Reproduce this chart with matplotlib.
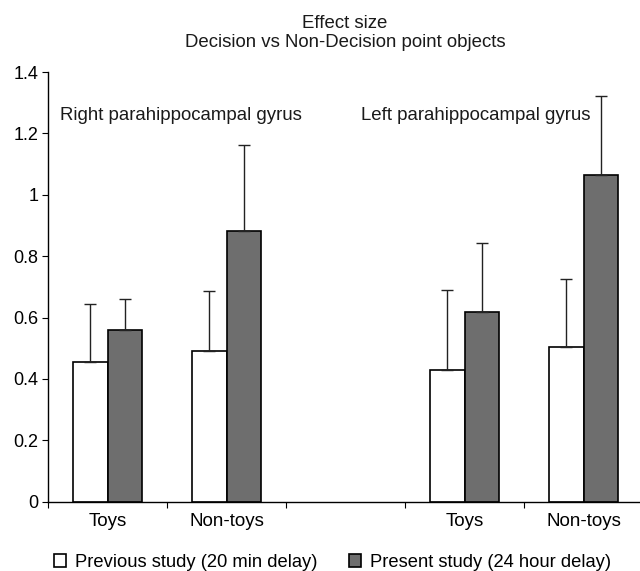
import numpy as np
import matplotlib.pyplot as plt

plt.rcParams['font.family'] = ['Liberation Sans', 'DejaVu Sans']

# Data
categories = ['Toys', 'Non-toys', '', 'Toys', 'Non-toys']
previous = [0.454, 0.492, np.nan, 0.430, 0.504]
previous_err = [0.190, 0.193, np.nan, 0.260, 0.220]
present = [0.558, 0.883, np.nan, 0.617, 1.063]
present_err = [0.104, 0.280, np.nan, 0.225, 0.258]
series_labels = ['Previous study (20 min delay)', 'Present study (24 hour delay)']

fig = plt.figure(figsize=(6.4, 5.71), dpi=100)
ax = fig.add_axes([0.075, 0.1214, 0.93, 0.7525])

x = np.arange(len(categories))
w = 0.29
err_kw = dict(ecolor='#222222', elinewidth=1.0, capsize=4, capthick=1.0)

lo = np.zeros(len(x))
b1 = ax.bar(x - w / 2, previous, w, color='white', edgecolor='black', linewidth=1.2,
            yerr=[lo, previous_err], error_kw=err_kw, label=series_labels[0], zorder=2)
b2 = ax.bar(x + w / 2, present, w, color='#6e6e6e', edgecolor='black', linewidth=1.2,
            yerr=[lo, present_err], error_kw=err_kw, label=series_labels[1], zorder=2)

ax.set_xlim(-0.5, len(categories) - 0.5)
ax.set_ylim(0, 1.4)
ax.set_yticks(np.arange(0, 1.41, 0.2))
ax.set_yticklabels(['0', '0.2', '0.4', '0.6', '0.8', '1', '1.2', '1.4'], fontsize=13)

# category labels between tick marks
ax.set_xticks(np.arange(-0.5, len(categories) - 0.5, 1.0))
ax.set_xticklabels([])
ax.set_xticks(x, minor=True)
ax.set_xticklabels(categories, minor=True, fontsize=13.5)
ax.tick_params(axis='x', which='minor', length=0, pad=8)
ax.tick_params(axis='x', which='major', length=4, direction='out')
ax.tick_params(axis='y', length=4, direction='out', pad=3)

for s in ['top', 'right']:
    ax.spines[s].set_visible(False)
ax.spines['left'].set_linewidth(1.0)
ax.spines['bottom'].set_linewidth(1.0)

ax.text(0.02, 0.899, 'Right parahippocampal gyrus', transform=ax.transAxes,
        fontsize=13.4, va='center', color='#1a1a1a')
ax.text(0.5255, 0.899, 'Left parahippocampal gyrus', transform=ax.transAxes,
        fontsize=13.4, va='center', color='#1a1a1a')

fig.text(0.539, 0.942, 'Effect size\nDecision vs Non-Decision point objects',
         ha='center', va='center', fontsize=13.4, linespacing=1.1, color='#1a1a1a')

fig.legend(handles=[b1, b2], loc='center', bbox_to_anchor=(0.52, 0.015), ncol=2,
           frameon=False, fontsize=13.2, handlelength=0.65, handleheight=0.65,
           handletextpad=0.5, columnspacing=1.7, borderpad=0)

fig.savefig('out.png', dpi=100)
